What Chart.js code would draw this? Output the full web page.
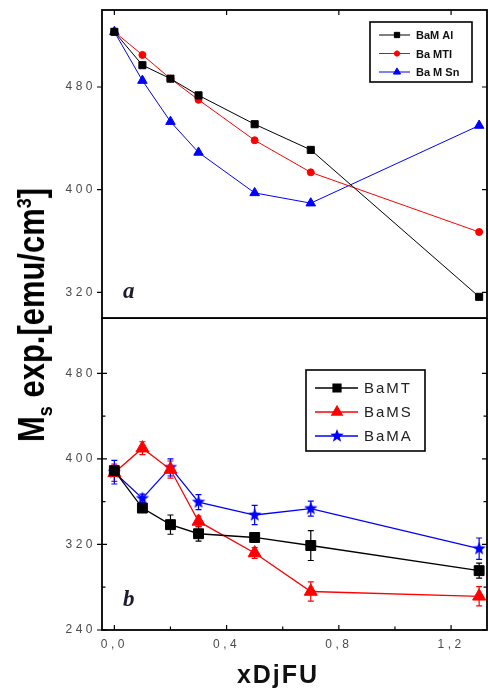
<!DOCTYPE html>
<html>
<head>
<meta charset="utf-8">
<script src="https://cdn.jsdelivr.net/npm/chart.js@4.4.0/dist/chart.umd.min.js"></script>
<style>
  body { margin: 0; background: #fff; }
  #wrap { position: relative; width: 488px; height: 692px; background: #fff; overflow: hidden; }
  canvas { position: absolute; left: 0; }
  .ytitle {
    position: absolute; left: 32px; top: 315px; white-space: nowrap;
    font: bold 36px "Liberation Sans", Arial, sans-serif; line-height: 1;
    transform: translate(-50%, -50%) rotate(-90deg) scaleX(0.86); color: #000;
  }
  .ytitle sub, .ytitle sup { font-size: 21px; line-height: 0; }
  .xtitle {
    position: absolute; left: 278px; top: 662px; transform: translateX(-50%);
    font: bold 25px "Liberation Sans", Arial, sans-serif; line-height: 1;
    letter-spacing: 2px; color: #111;
  }
  .tag {
    position: absolute; font: italic bold 23px "Liberation Serif", "DejaVu Serif", serif;
    line-height: 1; color: #1c1c30;
  }
</style>
</head>
<body>
<div id="wrap">
  <canvas id="chartA" width="488" height="320" style="top:0"></canvas>
  <canvas id="chartB" width="488" height="374" style="top:318px"></canvas>
  <div class="ytitle">M<sub>s</sub> exp.[emu/cm<sup>3</sup>]</div>
  <div class="xtitle">xDjFU</div>
  <div class="tag" style="left:123px;top:279px">a</div>
  <div class="tag" style="left:123px;top:587px">b</div>
</div>
<script>
// composition x shared by both panels
const xVals = [0, 0.1, 0.2, 0.3, 0.5, 0.7, 1.3];

// panel a
const msBaMAl = [523, 497, 486.5, 473.5, 451, 431, 316.5];
const msBaMTi = [523, 505, 486.5, 470, 438.5, 413.5, 367];
const msBaMSn = [523, 485, 453, 429, 397.5, 389.5, 450];

// panel b, with error bars
const msBaMT = [389, 354, 338.5, 330, 326.5, 319, 295.5];
const errBaMT = [4, 3, 9, 7, 4, 14, 7];
const msBaMS = [387, 410, 390, 341.5, 312, 276, 271.5];
const errBaMS = [8, 6, 8, 5, 5, 9, 9];
const msBaMA = [387.5, 363, 392, 359.5, 347.5, 353.5, 316];
const errBaMA = [11, 4, 8, 7, 9, 7, 10];

const xTicks = [0, 0.2, 0.4, 0.6, 0.8, 1.0, 1.2];
const yTicksA = [320, 400, 480];
const yTicksB = [240, 280, 320, 360, 400, 440, 480];

Chart.defaults.font.family = '"Liberation Sans", Arial, sans-serif';

function pts(ys) {
  return ys.map((y, i) => ({ x: xVals[i], y: y }));
}
const isMajorX = v => Math.round(v * 10) % 4 === 0;
const isMajorYB = v => v % 80 === 0;

// keep the plot box fixed: no extra room for overhanging labels
function fixBox(s, w, h) {
  if (w !== undefined) s.width = w;
  if (h !== undefined) s.height = h;
  s.paddingTop = s.paddingBottom = s.paddingLeft = s.paddingRight = 0;
}

// filled five point star used as a point style
function makeStar(color, r) {
  const c = document.createElement('canvas');
  c.width = c.height = Math.ceil(r * 2 + 2);
  const g = c.getContext('2d');
  const cx = c.width / 2, cy = c.height / 2;
  g.beginPath();
  for (let i = 0; i < 10; i++) {
    const rad = i % 2 === 0 ? r : r * 0.42;
    const a = -Math.PI / 2 + i * Math.PI / 5;
    g.lineTo(cx + rad * Math.cos(a), cy + rad * Math.sin(a));
  }
  g.closePath();
  g.fillStyle = color;
  g.fill();
  return c;
}
const starBig = makeStar('#0000ff', 7);

// box around the plot area plus tick marks
function framePlugin(cfg) {
  return {
    id: 'panelFrame',
    beforeDraw(chart) { chart.ctx.letterSpacing = cfg.spacing + 'px'; },
    afterDatasetsDraw(chart) {
      const { ctx, chartArea: a, scales } = chart;
      ctx.save();
      ctx.strokeStyle = '#000';
      ctx.lineWidth = 1.8;
      ctx.strokeRect(a.left, a.top, a.right - a.left, a.bottom - a.top);
      ctx.lineWidth = 1.2;
      ctx.beginPath();
      cfg.yTicks.forEach(v => {
        const y = scales.y.getPixelForValue(v);
        const major = cfg.yMajor(v);
        const len = major ? 5 : 3.5;
        if (major && cfg.leftOut) { ctx.moveTo(a.left - cfg.leftOut, y); ctx.lineTo(a.left, y); }
        if (cfg.leftIn) { ctx.moveTo(a.left, y); ctx.lineTo(a.left + len, y); }
        ctx.moveTo(a.right, y); ctx.lineTo(a.right - len, y);
      });
      xTicks.forEach(v => {
        const x = scales.x.getPixelForValue(v);
        const len = isMajorX(v) ? 5 : 3.5;
        if (cfg.top && isMajorX(v)) { ctx.moveTo(x, a.top); ctx.lineTo(x, a.top + 5); }
        if (cfg.bottom) { ctx.moveTo(x, a.bottom); ctx.lineTo(x, a.bottom - len); }
      });
      ctx.stroke();
      ctx.restore();
    }
  };
}

// vertical error bars taken from dataset.errors
const errorBars = {
  id: 'errorBars',
  beforeDatasetsDraw(chart) {
    const { ctx, scales } = chart;
    ctx.save();
    chart.data.datasets.forEach(ds => {
      if (!ds.errors) return;
      ctx.strokeStyle = ds.borderColor;
      ctx.lineWidth = 1.2;
      ds.data.forEach((p, i) => {
        const x = scales.x.getPixelForValue(p.x);
        const y1 = scales.y.getPixelForValue(p.y - ds.errors[i]);
        const y2 = scales.y.getPixelForValue(p.y + ds.errors[i]);
        ctx.beginPath();
        ctx.moveTo(x, y1); ctx.lineTo(x, y2);
        ctx.moveTo(x - 3, y1); ctx.lineTo(x + 3, y1);
        ctx.moveTo(x - 3, y2); ctx.lineTo(x + 3, y2);
        ctx.stroke();
      });
    });
    ctx.restore();
  }
};

// legend in a framed box
function boxLegend(cfg) {
  return {
    id: 'boxLegend',
    afterDraw(chart) {
      const ctx = chart.ctx;
      ctx.save();
      ctx.letterSpacing = cfg.spacing + 'px';
      ctx.strokeStyle = '#000';
      ctx.lineWidth = 1.6;
      ctx.strokeRect(cfg.left, cfg.top, cfg.width, cfg.height);
      ctx.font = cfg.font;
      ctx.textBaseline = 'middle';
      chart.data.datasets.forEach((ds, i) => {
        const y = cfg.top + cfg.first + i * cfg.gap;
        ctx.strokeStyle = ds.borderColor;
        ctx.lineWidth = ds.borderWidth;
        ctx.beginPath();
        ctx.moveTo(cfg.lineFrom, y); ctx.lineTo(cfg.lineTo, y);
        ctx.stroke();
        ctx.fillStyle = ds.backgroundColor;
        Chart.helpers.drawPoint(ctx, {
          pointStyle: ds.pointStyle, radius: ds.pointRadius * cfg.markScale,
          rotation: 0, borderWidth: 1
        }, cfg.mark, y);
        ctx.fillStyle = cfg.color;
        ctx.fillText(ds.label, cfg.text, y + 1);
      });
      ctx.restore();
    }
  };
}

function series(label, ys, color, style, radius, width, errors) {
  return {
    label: label, data: pts(ys), errors: errors,
    borderColor: color, backgroundColor: color,
    pointStyle: style, pointRadius: radius, pointBorderWidth: 1,
    borderWidth: width, showLine: true
  };
}

const yTickFont = { size: 12 };
const xMin = -0.044, xMax = 1.328;

new Chart(document.getElementById('chartA'), {
  type: 'scatter',
  data: {
    datasets: [
      series('BaM Al', msBaMAl, '#000000', 'rect', 5, 1),
      series('Ba MTI', msBaMTi, '#ff0000', 'circle', 3.5, 1),
      series('Ba M Sn', msBaMSn, '#0000ff', 'triangle', 5.5, 1)
    ]
  },
  options: {
    responsive: false, animation: false, devicePixelRatio: 1,
    layout: { autoPadding: false, padding: { top: 10, right: 1, bottom: 2, left: 0 } },
    plugins: { legend: { display: false }, tooltip: { enabled: false } },
    scales: {
      x: { type: 'linear', min: xMin, max: xMax, display: false },
      y: {
        min: 300, max: 540,
        afterBuildTicks: s => { s.ticks = yTicksA.map(v => ({ value: v })); },
        afterFit: s => fixBox(s, 102),
        grid: { display: false, drawTicks: false }, border: { display: false },
        ticks: { color: '#4a4a4a', font: yTickFont, padding: 6 }
      }
    }
  },
  plugins: [
    framePlugin({ spacing: 3.5, yTicks: yTicksA, yMajor: () => true, leftOut: 5, leftIn: 0, top: true, bottom: false }),
    boxLegend({ left: 370, top: 22, width: 102, height: 60, first: 13, gap: 18.5,
      lineFrom: 379, lineTo: 410, mark: 397, text: 416, markScale: 0.75,
      font: 'bold 11px "Liberation Sans", Arial, sans-serif', color: '#111', spacing: 0 })
  ]
});

new Chart(document.getElementById('chartB'), {
  type: 'scatter',
  data: {
    datasets: [
      series('BaMT', msBaMT, '#000000', 'rect', 7, 1.3, errBaMT),
      series('BaMS', msBaMS, '#ff0000', 'triangle', 7.5, 1.3, errBaMS),
      series('BaMA', msBaMA, '#0000ff', starBig, 7, 1.3, errBaMA)
    ]
  },
  options: {
    responsive: false, animation: false, devicePixelRatio: 1,
    layout: { autoPadding: false, padding: { top: 0, right: 1, bottom: 0, left: 0 } },
    plugins: { legend: { display: false }, tooltip: { enabled: false } },
    scales: {
      x: {
        type: 'linear', min: xMin, max: xMax,
        afterBuildTicks: s => { s.ticks = xTicks.map(v => ({ value: v })); },
        afterFit: s => fixBox(s, undefined, 62),
        grid: { display: false, drawTicks: false }, border: { display: false },
        ticks: {
          color: '#4a4a4a', font: { size: 12 }, padding: 7, autoSkip: false, maxRotation: 0,
          callback: v => isMajorX(v) ? v.toFixed(1).replace('.', ',') : ''
        }
      },
      y: {
        min: 240, max: 531.7,
        afterBuildTicks: s => { s.ticks = yTicksB.map(v => ({ value: v })); },
        afterFit: s => fixBox(s, 102),
        grid: { display: false, drawTicks: false }, border: { display: false },
        ticks: { color: '#4a4a4a', font: yTickFont, padding: 6, callback: v => isMajorYB(v) ? v : '' }
      }
    }
  },
  plugins: [
    errorBars,
    framePlugin({ spacing: 3.5, yTicks: yTicksB, yMajor: isMajorYB, leftOut: 5, leftIn: 5, top: false, bottom: true }),
    boxLegend({ left: 306, top: 52, width: 119, height: 81, first: 18, gap: 24,
      lineFrom: 315, lineTo: 358, mark: 337, text: 364, markScale: 0.8,
      font: '15px "Liberation Sans", Arial, sans-serif', color: '#222', spacing: 2 })
  ]
});
</script>
</body>
</html>
